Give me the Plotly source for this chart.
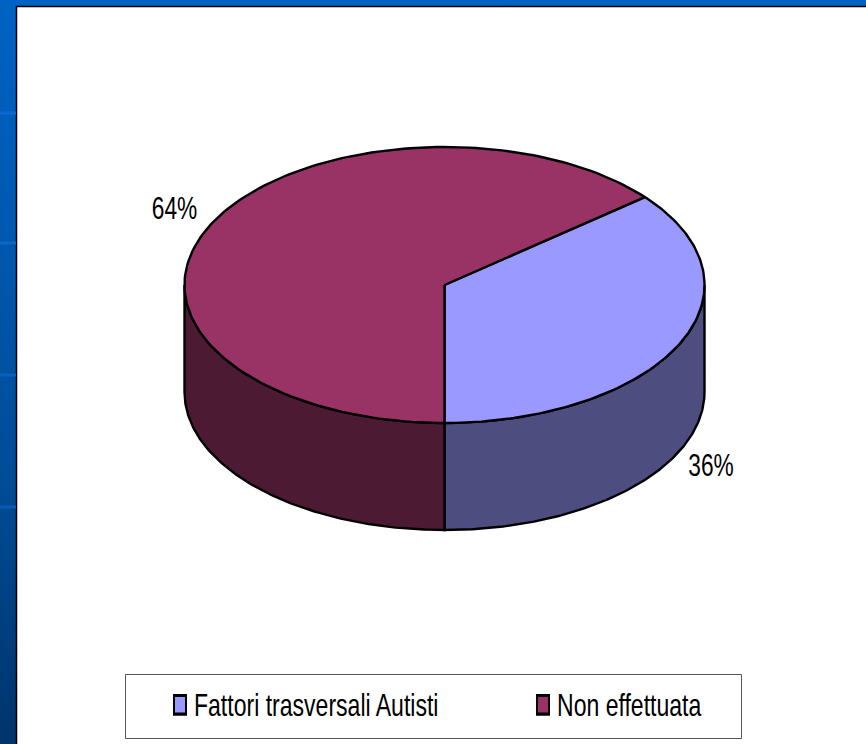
import numpy as np
import plotly.graph_objects as go

categories = ["Fattori trasversali Autisti", "Non effettuata"]
values = [36, 64]
top_colors = ["#9999FF", "#993366"]
side_colors = ["#4D4D80", "#4D1A33"]
FONT = "Liberation Sans, Arial"

W, H = 866, 744
CX, CY = 444.5, 285      # pie centre in page pixels
RX = 260                 # pie radius in pixels = 1 unit
TILT = 138 / RX
DEPTH = 107 / RX
LINE = dict(color="black", width=2.4)


def px(x):
    return (x - CX) / RX


def py(y):
    return (CY - y) / RX


def rim(a0, a1, n=160):
    """Rim of the ellipse between two clockwise-from-top angles (degrees)."""
    t = np.radians(np.linspace(a0, a1, n))
    return np.sin(t), np.cos(t) * TILT


fig = go.Figure()

# slide frame: blue gradient strips left and top of the white panel
grad = [[0, "#00346A"], [0.35, "#004C96"], [0.7, "#0059B0"], [1, "#0062C4"]]
fig.add_trace(go.Scatter(
    x=[px(0), px(17), px(17), px(W), px(W), px(0), px(0)],
    y=[py(H), py(H), py(7), py(7), py(0), py(0), py(H)],
    mode="lines", fill="toself", line=dict(width=0), showlegend=False, hoverinfo="skip",
    fillgradient=dict(type="vertical", colorscale=grad),
))
fig.add_trace(go.Scatter(
    x=[px(16.5), px(16.5), px(W)], y=[py(H), py(6.5), py(6.5)],
    mode="lines", line=dict(color="black", width=1.5), showlegend=False, hoverinfo="skip",
))
for ly, col in zip([113, 243, 375, 507], ["#0A6AD0", "#0A66C8", "#0A60BC", "#0A5AB0"]):
    fig.add_trace(go.Scatter(
        x=[px(0), px(16)], y=[py(ly), py(ly)], mode="lines",
        line=dict(color=col, width=3), showlegend=False, hoverinfo="skip",
    ))

# slices: first slice starts so that it ends at the front (180 degrees)
sweep = [v / sum(values) * 360 for v in values]
start = 180 - sweep[0]

# side walls
x1, y1 = rim(90, 180)
fig.add_trace(go.Scatter(
    x=np.r_[x1, x1[::-1], x1[0]], y=np.r_[y1, y1[::-1] - DEPTH, y1[0]],
    mode="lines", fill="toself", fillcolor=side_colors[0], line=LINE,
    showlegend=False, hoverinfo="skip",
))
x2, y2 = rim(180, 270)
fig.add_trace(go.Scatter(
    x=np.r_[x2, x2[::-1], x2[0]], y=np.r_[y2, y2[::-1] - DEPTH, y2[0]],
    mode="lines", fill="toself", fillcolor=side_colors[1], line=LINE,
    showlegend=False, hoverinfo="skip",
))

# top faces
a0 = start
for name, s, col in zip(categories, sweep, top_colors):
    xr, yr = rim(a0, a0 + s)
    fig.add_trace(go.Scatter(
        x=np.r_[0, xr, 0], y=np.r_[0, yr, 0], mode="lines", fill="toself",
        fillcolor=col, line=LINE, showlegend=False, name=name, hoverinfo="skip",
    ))
    a0 += s

# percent labels
fig.add_trace(go.Scatter(
    x=[px(711), px(174.5)], y=[py(468), py(211)], mode="text",
    text=[f"{v}%" for v in values], textposition="middle center",
    textfont=dict(family=FONT, size=32, color="black"),
    showlegend=False, hoverinfo="skip",
))

# legend frame and entries: one plotly legend per entry so each sits where it should
fig.add_shape(type="rect", x0=px(125.5), x1=px(741.5), y0=py(738.5), y1=py(674.5),
              line=dict(color="#555555", width=1), fillcolor="white", layer="below")
legend_ids = ["legend", "legend2"]
for name, col, lid in zip(categories, top_colors, legend_ids):
    fig.add_trace(go.Scatter(
        x=[None], y=[None], mode="markers", name=name, legend=lid,
        marker=dict(symbol="square", size=13, color=col, line=dict(color="black", width=2)),
    ))

legend_style = dict(
    xanchor="left", yanchor="middle", bgcolor="rgba(0,0,0,0)", borderwidth=0,
    itemsizing="constant", font=dict(family=FONT, size=32, color="black"),
)
fig.update_layout(
    width=W, height=H, margin=dict(l=0, r=0, t=0, b=0),
    paper_bgcolor="white", plot_bgcolor="white",
    xaxis=dict(range=[px(0), px(W)], visible=False, fixedrange=True),
    yaxis=dict(range=[py(H), py(0)], visible=False, fixedrange=True),
    legend=dict(x=154 / W, y=1 - 705 / H, **legend_style),
    legend2=dict(x=517 / W, y=1 - 705 / H, **legend_style),
)

# The reference lettering is tall and narrow; no installed font matches, so the real
# text is condensed in place. The default page margin is also removed.
post = """
document.body.style.margin = '0';
document.documentElement.style.overflow = 'hidden';
function condense() {
  document.querySelectorAll('.legendtext, .legend2text').forEach(function (t) {
    var s = 0.72, x = parseFloat(t.getAttribute('x')) || 0;
    t.setAttribute('transform', 'translate(' + (x * (1 - s)) + ',-1) scale(' + s + ',1)');
  });
  document.querySelectorAll('.textpoint text').forEach(function (t) {
    if (!t.getAttribute('textLength') && t.getComputedTextLength() > 0) {
      t.setAttribute('lengthAdjust', 'spacingAndGlyphs');
      t.setAttribute('textLength', t.getComputedTextLength() * 0.71);
    }
  });
  document.querySelectorAll('.legendsymbols').forEach(function (g) {
    g.setAttribute('transform', 'translate(6,0)');
  });
  document.querySelectorAll('.legendpoints path').forEach(function (p) {
    var tr = p.getAttribute('transform') || '';
    if (tr.indexOf('scale') < 0) p.setAttribute('transform', tr + ' scale(1,1.55)');
  });
}
condense();
[50, 200, 500, 1000].forEach(function (ms) { setTimeout(condense, ms); });
"""
fig.write_html("out.html", post_script=post, config={"displayModeBar": False})
